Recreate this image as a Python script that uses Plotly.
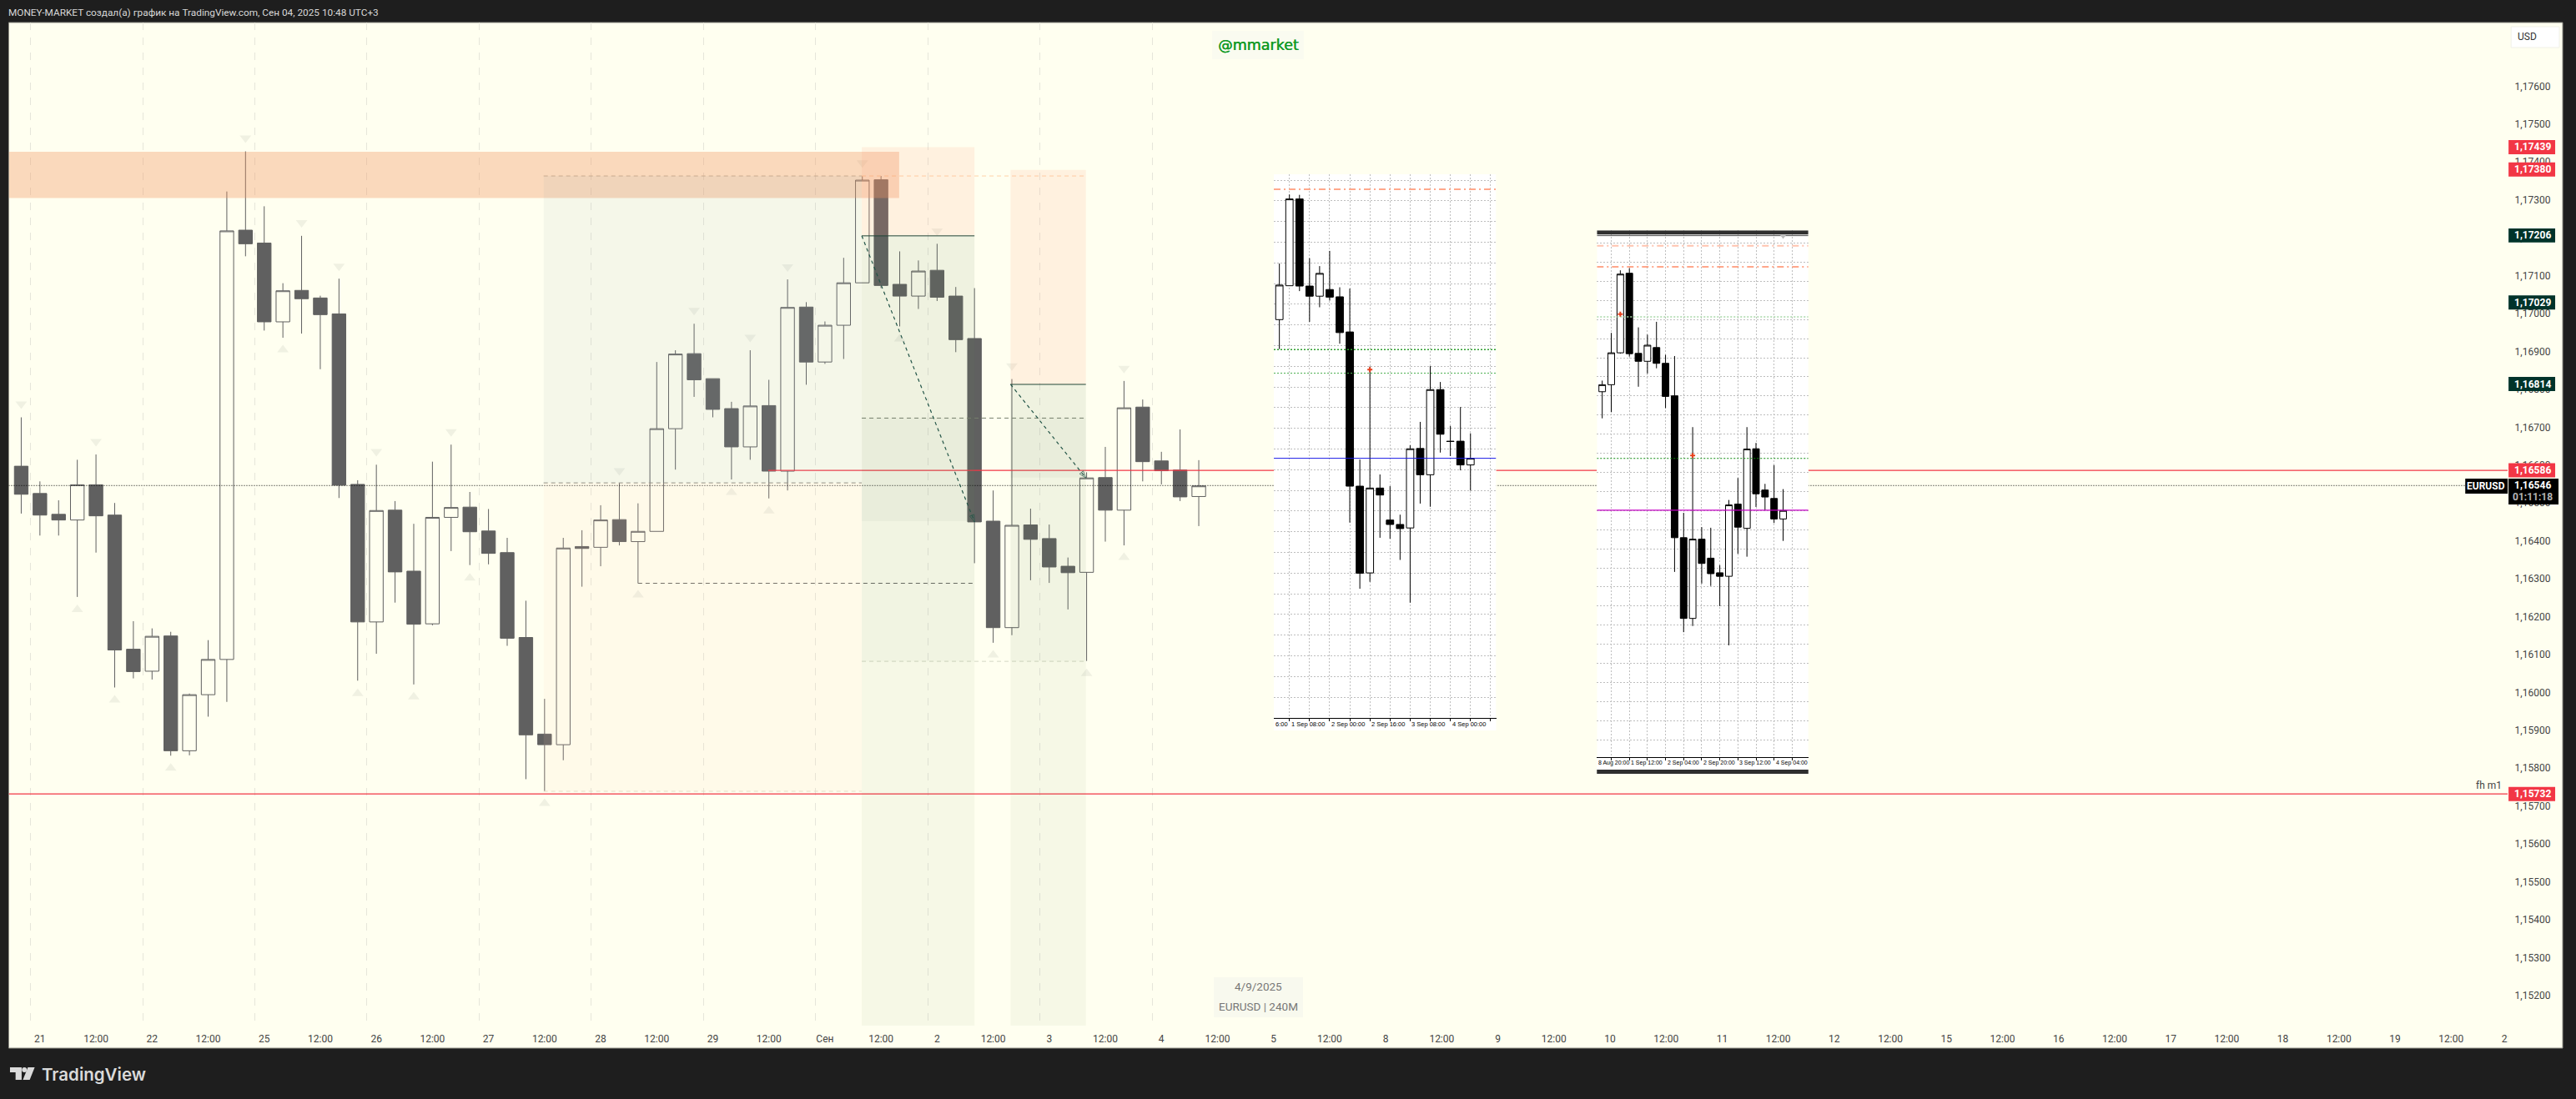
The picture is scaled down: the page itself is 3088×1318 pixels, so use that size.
#chart screenshot: EURUSD 240M with two pasted MT4 pictures
import plotly.graph_objects as go

W = 3088
H = 1318
IVORY = "#FFFFF0"
DARK = "#1E1E1E"
RED = "#F23645"
TEAL = "#00332A"
CANDLE = "#606060"

#main candles, 4h
m_open = [1.16597,1.16525,1.16470,1.16455,1.16548,1.16468,1.16114,1.16056,1.16149,1.15846,1.15994,1.16087,1.17220,1.17186,1.16978,1.17061,
          1.17041,1.16999,1.16549,1.16186,1.16481,1.16320,1.16181,1.16462,1.16489,1.16426,1.16369,1.16145,1.15890,1.15862,1.16385,1.16383,
          1.16456,1.16398,1.16425,1.16696,1.16894,1.16828,1.16749,1.16648,1.16757,1.16584,1.17017,1.16872,1.16969,1.17081,1.17353,1.17077,
          1.17046,1.17114,1.17046,1.16934,1.16452,1.16171,1.16442,1.16406,1.16333,1.16317,1.16567,1.16481,1.16753,1.16611,1.16587,1.16517]
m_high = [1.16726,1.16557,1.16507,1.16614,1.16628,1.16500,1.16188,1.16169,1.16160,1.15997,1.16138,1.17322,1.17428,1.17283,1.17080,1.17205,
          1.17047,1.17092,1.16560,1.16601,1.16505,1.16445,1.16609,1.16654,1.16529,1.16484,1.16408,1.16242,1.15983,1.16408,1.16428,1.16494,
          1.16553,1.16499,1.16872,1.16903,1.16973,1.16828,1.16767,1.16903,1.16825,1.17090,1.17030,1.16979,1.17147,1.17363,1.17363,1.17164,
          1.17140,1.17184,1.17070,1.17067,1.16533,1.16827,1.16485,1.16443,1.16356,1.16581,1.16648,1.16822,1.16773,1.16635,1.16694,1.16613]
m_low = [1.16472,1.16414,1.16414,1.16252,1.16369,1.16013,1.16037,1.16034,1.15833,1.15834,1.15936,1.15975,1.17151,1.16955,1.16936,1.16947,
         1.16853,1.16513,1.16031,1.16102,1.16237,1.16021,1.16177,1.16373,1.16336,1.16338,1.16123,1.15771,1.15739,1.15821,1.16279,1.16333,
         1.16388,1.16288,1.16425,1.16588,1.16780,1.16726,1.16562,1.16614,1.16512,1.16533,1.16812,1.16867,1.16880,1.17081,1.17067,1.16966,
         1.17012,1.17033,1.16898,1.16341,1.16131,1.16151,1.16296,1.16289,1.16219,1.16083,1.16398,1.16388,1.16557,1.16549,1.16505,1.16439]
m_close = [1.16523,1.16468,1.16455,1.16548,1.16466,1.16112,1.16055,1.16148,1.15846,1.15994,1.16087,1.17218,1.17184,1.16978,1.17060,1.17039,
           1.16997,1.16547,1.16186,1.16480,1.16318,1.16180,1.16462,1.16488,1.16424,1.16367,1.16143,1.15888,1.15862,1.16381,1.16380,1.16455,
           1.16398,1.16425,1.16696,1.16893,1.16825,1.16747,1.16648,1.16756,1.16584,1.17016,1.16872,1.16969,1.17081,1.17352,1.17074,1.17046,
           1.17112,1.17043,1.16931,1.16450,1.16171,1.16441,1.16404,1.16331,1.16316,1.16566,1.16481,1.16751,1.16609,1.16585,1.16516,1.16545]

#fractal triangles
down_idx = [0,4,12,15,17,19,23,32,36,39,41,45,49,53,59]
down_val = [1.16761,1.16662,1.17463,1.17240,1.17125,1.16636,1.16688,1.16585,1.17008,1.16937,1.17123,1.17398,1.17218,1.16862,1.16855]
up_idx = [3,5,8,14,18,21,24,28,33,38,40,47,52,57,59]
up_val = [1.16219,1.15980,1.15800,1.16904,1.15997,1.15988,1.16302,1.15707,1.16257,1.16528,1.16479,1.16933,1.16099,1.16050,1.16356]

#time axis
x_ticks = list(range(1, 134, 3))
days = ["21","22","25","26","27","28","29","Сен","2","3","4","5","8","9","10","11","12","15","16","17","18","19","22"]
x_labels = []
for d in days:
    x_labels.append(d)
    x_labels.append("12:00")
x_labels = x_labels[:-1]
session_lines = [0.5,6.5,12.5,18.5,24.5,30.5,36.5,42.5,48.5,54.5,60.5]
y_ticks = [1.152,1.153,1.154,1.155,1.156,1.157,1.158,1.159,1.160,1.161,1.162,1.163,1.164,1.165,1.166,1.167,1.168,1.169,1.170,1.171,1.172,1.173,1.174,1.175,1.176]

#price badges
red_badges = [1.17439,1.17380,1.16586,1.15732]
teal_badges = [1.17206,1.17029,1.16814]
last_price = 1.16546

#left MT4 picture
a_open = [1.16967,1.17074,1.17348,1.17073,1.17041,1.17062,1.17039,1.16928,1.16441,1.16167,1.16435,1.16334,1.16320,1.16309,1.16560,1.16477,1.16746,1.16583,1.16583,1.16508]
a_high = [1.17144,1.17362,1.17361,1.17161,1.17136,1.17184,1.17069,1.17065,1.16525,1.16819,1.16478,1.16441,1.16351,1.16570,1.16644,1.16820,1.16770,1.16631,1.16691,1.16608]
a_low = [1.16874,1.17074,1.17057,1.16960,1.17006,1.17027,1.16891,1.16326,1.16117,1.16139,1.16278,1.16275,1.16208,1.16073,1.16386,1.16376,1.16547,1.16536,1.16491,1.16427]
a_close = [1.17076,1.17348,1.17073,1.17041,1.17113,1.17038,1.16926,1.16441,1.16166,1.16435,1.16413,1.16320,1.16307,1.16559,1.16477,1.16746,1.16605,1.16582,1.16508,1.16529]
a_tick_text = ["6:00","1 Sep 08:00","2 Sep 00:00","2 Sep 16:00","3 Sep 08:00","4 Sep 00:00"]
a_tick_pos = [-0.55,1,5,9,13,17]

#right MT4 picture
b_open = [1.16943,1.16967,1.17076,1.17348,1.17074,1.17047,1.17094,1.17040,1.16929,1.16444,1.16168,1.16439,1.16374,1.16324,1.16312,1.16559,1.16476,1.16748,1.16607,1.16578,1.16508]
b_high = [1.16981,1.17144,1.17358,1.17365,1.17163,1.17138,1.17182,1.17069,1.17065,1.16529,1.16822,1.16480,1.16478,1.16350,1.16573,1.16648,1.16822,1.16768,1.16628,1.16692,1.16610]
b_low = [1.16852,1.16873,1.17073,1.17063,1.16960,1.17005,1.17023,1.16887,1.16327,1.16121,1.16142,1.16287,1.16279,1.16210,1.16076,1.16389,1.16379,1.16549,1.16537,1.16494,1.16433]
b_close = [1.16967,1.17076,1.17345,1.17073,1.17047,1.17102,1.17040,1.16927,1.16444,1.16168,1.16439,1.16356,1.16321,1.16312,1.16556,1.16480,1.16747,1.16594,1.16583,1.16508,1.16537]
b_tick_text = ["8 Aug 20:00","1 Sep 12:00","2 Sep 04:00","2 Sep 20:00","3 Sep 12:00","4 Sep 04:00"]
b_tick_pos = [-0.59,3,7,11,15,19]


def fx(px):
    return px / W


def fy(py):
    return 1 - py / H


x_range = [-0.668, 133.03]
y_range = [1.151206, 1.17768]
a_xr = [-0.55, 21.55]
a_yr = [1.15709, 1.17426]
b_xr = [-0.59, 22.79]
b_yr = [1.156927, 1.174945]

fig = go.Figure()


def candles(o, h, l, c, up_line, up_fill, down_line, down_fill, xa, ya):
    return go.Candlestick(x=list(range(len(o))), open=o, high=h, low=l, close=c,
                          increasing=dict(line=dict(color=up_line, width=1), fillcolor=up_fill),
                          decreasing=dict(line=dict(color=down_line, width=1), fillcolor=down_fill),
                          whiskerwidth=0, xaxis=xa, yaxis=ya, hoverinfo="skip", showlegend=False)


def hline(xs, val, color, width=1, dash="solid", xa="x", ya="y"):
    fig.add_trace(go.Scatter(x=xs, y=[val, val], mode="lines", line=dict(color=color, width=width, dash=dash),
                             xaxis=xa, yaxis=ya, hoverinfo="skip", showlegend=False))


#main pane
fig.add_trace(go.Scatter(x=down_idx, y=down_val, mode="markers", marker=dict(symbol="triangle-down", size=12, color="#F0F1E2"),
                         hoverinfo="skip", showlegend=False))
fig.add_trace(go.Scatter(x=up_idx, y=up_val, mode="markers", marker=dict(symbol="triangle-up", size=12, color="#F0F1E2"),
                         hoverinfo="skip", showlegend=False))
fig.add_trace(candles(m_open, m_high, m_low, m_close, CANDLE, IVORY, CANDLE, "#606060", "x", "y"))

hline(x_range, 1.15732, RED, 1.2)
hline([39.97, x_range[1]], 1.16586, RED, 1.2)
hline([x_range[0], 131], last_price, "#000000", 1, "1px,2px")
hline([27.95, 44.97], 1.17363, "#B8B8A8", 1, "5px,4px")
hline([44.97, 56.96], 1.17363, "#FFD2A8", 1, "5px,4px")
hline([27.95, 44.97], 1.16553, "#8C8C80", 1, "5px,4px")
hline([27.95, 44.97], 1.15739, "#E4DFC8", 1, "5px,4px")
hline([33, 51], 1.16288, "#666660", 1, "5px,4px")
hline([44.97, 56.96], 1.16724, "#77806E", 1, "5px,4px")
hline([44.97, 56.96], 1.16082, "#D4D8C4", 1, "5px,4px")
hline([44.97, 51.0], 1.17205, "#0B3B30")
hline([52.93, 56.96], 1.16813, "#0B3B30")

for xs, ys in [([44.97, 51.0], [1.17205, 1.16450]), ([52.93, 56.96], [1.16813, 1.16566])]:
    fig.add_trace(go.Scatter(x=xs, y=ys, mode="lines+markers", line=dict(color="#1B4F45", width=1.2, dash="4px,4px"),
                             marker=dict(symbol="arrow-open", size=[0, 9], angleref="previous", color="#1B4F45",
                                         line=dict(color="#1B4F45", width=1)),
                             hoverinfo="skip", showlegend=False))

#left picture
hline(a_xr, 1.173786, "#FFA88C", 2, "8px,4px,2px,4px", "x2", "y2")
hline(a_xr, 1.16872, "#2E9E2E", 1.5, "2px,2px", "x2", "y2")
hline(a_xr, 1.16798, "#4CAF50", 1, "2px,2px", "x2", "y2")
hline(a_xr, 1.16529, "#1A1AE6", 1, "solid", "x2", "y2")
fig.add_trace(candles(a_open, a_high, a_low, a_close, "#000000", "#FFFFFF", "#000000", "#000000", "x2", "y2"))
fig.add_trace(go.Scatter(x=[9], y=[1.16809], mode="markers", marker=dict(symbol="cross", size=5, color="#E8401C"),
                         xaxis="x2", yaxis="y2", hoverinfo="skip", showlegend=False))

#right picture
hline(b_xr, 1.17442, "#FFC4B0", 2, "8px,4px,2px,4px", "x3", "y3")
hline(b_xr, 1.17370, "#FF8A66", 1.5, "8px,4px,2px,4px", "x3", "y3")
hline(b_xr, 1.17199, "#A8D8A8", 1.5, "2px,2px", "x3", "y3")
hline(b_xr, 1.16715, "#0E8A0E", 1, "2px,2px", "x3", "y3")
hline(b_xr, 1.16538, "#C400C4", 1.4, "solid", "x3", "y3")
fig.add_trace(candles(b_open, b_high, b_low, b_close, "#000000", "#FFFFFF", "#000000", "#000000", "x3", "y3"))
fig.add_trace(go.Scatter(x=[2, 10], y=[1.17208, 1.16725], mode="markers", marker=dict(symbol="cross", size=5, color="#E8401C"),
                         xaxis="x3", yaxis="y3", hoverinfo="skip", showlegend=False))
fig.add_trace(go.Scatter(x=[20], y=[1.17474], mode="markers", marker=dict(symbol="triangle-down", size=6, color="#BBBBBB"),
                         xaxis="x3", yaxis="y3", hoverinfo="skip", showlegend=False))

shapes = []


def paper_rect(x0, y0, x1, y1, fill, layer="below", line=None):
    shapes.append(dict(type="rect", xref="paper", yref="paper", x0=fx(x0), x1=fx(x1), y0=fy(y0), y1=fy(y1),
                       fillcolor=fill, layer=layer, line=dict(width=1 if line else 0, color=line or fill)))


def zone(x0, x1, y0, y1, fill):
    shapes.append(dict(type="rect", xref="x", yref="y", x0=x0, x1=x1, y0=y0, y1=y1, fillcolor=fill, layer="above", line=dict(width=0)))


#frame and picture strips
paper_rect(10.5, 27, 3078, 1257, IVORY, "below", "#8C8C84")
paper_rect(1530, 861, 1797, 876, "#FFFFFF")
paper_rect(1918, 908, 2172, 923, "#FFFFFF")
paper_rect(1918, 923, 2172, 928, "#2F2F2F")

#picture backgrounds sit in their own subplot layer
shapes.append(dict(type="rect", xref="x2", yref="y2", x0=a_xr[0], x1=a_xr[1], y0=a_yr[0], y1=a_yr[1], fillcolor="#FFFFFF", layer="below", line=dict(width=0)))
shapes.append(dict(type="rect", xref="x3", yref="y3", x0=b_xr[0], x1=b_xr[1], y0=b_yr[0], y1=b_yr[1], fillcolor="#FFFFFF", layer="below", line=dict(width=0)))
shapes.append(dict(type="rect", xref="x3", yref="y3", x0=b_xr[0], x1=b_xr[1], y0=1.174807, y1=1.174945, fillcolor="#2F2F2F", layer="between", line=dict(width=0)))
shapes.append(dict(type="line", xref="x3", yref="y3", x0=b_xr[0], x1=b_xr[1], y0=1.174765, y1=1.174765, layer="between", line=dict(width=1, color="#555555")))

#shaded drawings, above the candles as in the screenshot
zone(x_range[0], 46.97, 1.17305, 1.17427, "rgba(241,147,92,0.35)")
zone(27.95, 44.97, 1.16553, 1.17363, "rgba(155,175,180,0.10)")
zone(27.95, 44.97, 1.15739, 1.16553, "rgba(255,205,180,0.10)")
zone(44.97, 51.0, 1.17205, 1.17439, "rgba(255,160,130,0.15)")
zone(52.93, 56.96, 1.16813, 1.17379, "rgba(255,160,130,0.15)")
for x0, x1, top in [(44.97, 51.0, 1.17205), (52.93, 56.96, 1.16813)]:
    low_mid = 1.16452 if x0 < 50 else 1.16567
    zone(x0, x1, 1.16724, top, "rgba(100,130,90,0.10)")
    zone(x0, x1, low_mid, 1.16724, "rgba(100,130,90,0.14)")
    zone(x0, x1, 1.16082, low_mid, "rgba(100,130,90,0.09)")
    zone(x0, x1, y_range[0], 1.16082, "rgba(100,130,90,0.06)")

#watermark boxes
paper_rect(1456, 37, 1566, 71, "#FAFBF0", "above")
paper_rect(1458, 1172, 1565, 1220, "#F8F9EE", "above")

#price axis pieces
paper_rect(3012, 1231, 3077, 1256, IVORY, "above")
paper_rect(3016, 32, 3074, 57, "#FFFFFF", "above", "#F0F0E8")


def badge(py_val, fill):
    shapes.append(dict(type="rect", xref="paper", yref="y", x0=fx(3013), x1=fx(3069), y0=py_val - 0.000187, y1=py_val + 0.000187,
                       fillcolor=fill, layer="above", line=dict(width=0)))


annotations = []


def label(px, py, text, size=12, color="#444444", family="Roboto", anchor="center", weight="normal", shadow="none"):
    annotations.append(dict(xref="paper", yref="paper", x=fx(px), y=fy(py), text=text, showarrow=False, xanchor=anchor, yanchor="middle",
                            font=dict(family=family, size=size, color=color, weight=weight, shadow=shadow), borderpad=0, borderwidth=0))


for v in red_badges:
    badge(v, RED)
for v in teal_badges:
    badge(v, TEAL)
for v in red_badges + teal_badges:
    annotations.append(dict(xref="paper", yref="y", x=fx(3042), y=v, text="<b>" + ("%.5f" % v).replace(".", ",") + "</b>", showarrow=False,
                            xanchor="center", yanchor="middle", font=dict(family="Roboto", size=12, color="#FFFFFF")))

paper_rect(2961, 574, 3012, 592, "#000000", "above")
paper_rect(3013, 574, 3073, 605, "#000000", "above")
label(2986, 583, "<b>EURUSD</b>", 12, "#FFFFFF")
label(3042, 582, "<b>" + ("%.5f" % last_price).replace(".", ",") + "</b>", 12, "#FFFFFF")
label(3042, 596, "<b>01:11:18</b>", 12, "#B4B4B4")
label(3035, 44, "USD", 12, "#333333")
label(2989, 942, "fh m1", 12, "#444444")

label(10, 15, "MONEY-MARKET создал(а) график на TradingView.com, Сен 04, 2025 10:48 UTC+3", 11.8, "#D8D8D8", "Roboto", "left")
label(1511, 54, "@mmarket", 17.5, "#109A25", "DejaVu Sans", shadow="0.5px 0 0 #109A25")
label(1511, 1183, "4/9/2025", 13.5, "#777777")
label(1511, 1207, "EURUSD | 240M", 13.5, "#777777")
label(50, 1288, "TradingView", 20.5, "#DADADA", "Inter", "left", weight=600)

for pos, txt in zip(a_tick_pos, a_tick_text):
    annotations.append(dict(xref="x2", yref="paper", x=pos, y=fy(868.5), text=txt, showarrow=False, xanchor="left", yanchor="middle",
                            font=dict(family="Liberation Sans", size=7.5, color="#000000")))
for pos, txt in zip(b_tick_pos, b_tick_text):
    annotations.append(dict(xref="x3", yref="paper", x=pos, y=fy(915.5), text=txt, showarrow=False, xanchor="left", yanchor="middle",
                            font=dict(family="Liberation Sans", size=7, color="#000000")))

#TradingView logo
logo = [
    "M %f %f L %f %f L %f %f L %f %f L %f %f L %f %f Z" % (fx(12), fy(1280), fx(26), fy(1280), fx(26), fy(1295), fx(18.7), fy(1295), fx(18.7), fy(1286), fx(12), fy(1286)),
    "M %f %f L %f %f L %f %f L %f %f Z" % (fx(33.5), fy(1280), fx(41.7), fy(1280), fx(35.7), fy(1295), fx(27.5), fy(1295)),
]
for p in logo:
    shapes.append(dict(type="path", xref="paper", yref="paper", path=p, fillcolor="#DADADA", layer="above", line=dict(width=0)))
shapes.append(dict(type="circle", xref="paper", yref="paper", x0=fx(26.3), x1=fx(32.3), y0=fy(1286), y1=fy(1280), fillcolor="#DADADA", layer="above", line=dict(width=0)))

picture_x = dict(showticklabels=False, showline=True, linecolor="#000000", linewidth=1, ticks="outside", ticklen=3, tickcolor="#000000",
                 tick0=1, dtick=2, showgrid=True, gridcolor="#BEBEBE", griddash="2px,2px", zeroline=False, rangeslider=dict(visible=False))
picture_y = dict(showticklabels=False, showline=False, ticks="", showgrid=True, gridcolor="#BEBEBE", griddash="2px,2px",
                 dtick=0.000653, zeroline=False)

fig.update_layout(
    width=W, height=H,
    margin=dict(l=0, r=0, t=0, b=0, pad=0),
    paper_bgcolor=DARK, plot_bgcolor=IVORY,
    separators=", ",
    showlegend=False, hovermode=False,
    boxgap=0.27, boxgroupgap=0,
    shapes=shapes, annotations=annotations,
    xaxis=dict(domain=[fx(10.5), fx(3012)], range=x_range, tickmode="array", tickvals=x_ticks, ticktext=x_labels,
               showgrid=False, zeroline=False, showline=False, ticks="outside", ticklen=5, tickcolor=IVORY, anchor="y",
               tickfont=dict(family="Roboto", size=12, color="#444444"), tickangle=0, rangeslider=dict(visible=False),
               minor=dict(tickmode="array", tickvals=session_lines, showgrid=True, gridcolor="#E6E6DA", griddash="dash", gridwidth=1, ticks="")),
    yaxis=dict(domain=[fy(1230), fy(27)], range=y_range, side="right", tickmode="array", tickvals=y_ticks, tickformat=".5f",
               showgrid=False, zeroline=False, showline=False, ticks="outside", ticklen=5, tickcolor=IVORY, anchor="x",
               tickfont=dict(family="Roboto", size=12, color="#444444")),
    xaxis2=dict(picture_x, domain=[fx(1530), fx(1797)], range=a_xr, anchor="y2"),
    yaxis2=dict(picture_y, domain=[fy(861), fy(209)], range=a_yr, anchor="x2", tick0=1.17342),
    xaxis3=dict(picture_x, domain=[fx(1918), fx(2172)], range=b_xr, anchor="y3"),
    yaxis3=dict(picture_y, domain=[fy(908.4), fy(276.3)], range=b_yr, anchor="x3", tick0=1.17255),
)

fig.write_html("out.html", config=dict(displayModeBar=False),
               post_script="document.body.style.margin='0';document.body.style.overflow='hidden';")
